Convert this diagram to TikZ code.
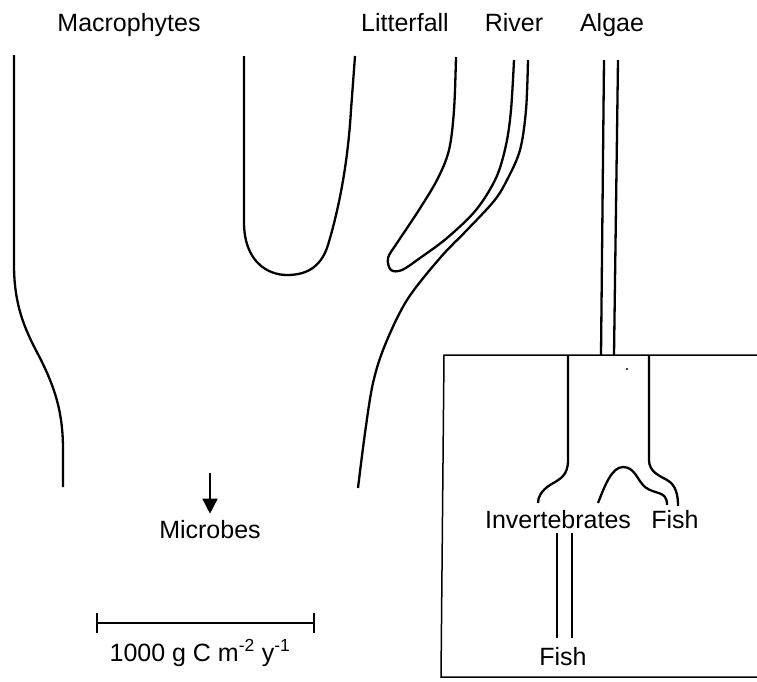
\documentclass[tikz,border=0pt]{standalone}
\usepackage{fontspec}
\setmainfont{Liberation Sans}
\usetikzlibrary{arrows.meta,positioning}

\begin{document}
\begin{tikzpicture}[x=1pt, y=-1pt, >={Triangle[width=15pt,length=15pt]},
  flow/.style={line width=2.3pt},
  frame/.style={line width=1.5pt},
  lab/.style={anchor=base, inner sep=0pt, font=\fontsize{25}{30}\selectfont}]
\useasboundingbox (0,0) rectangle (757,681);
% sources
\node[lab] (macro) at (129,31) {Macrophytes};
\node[lab] (litter) at (405,31) {Litterfall};
\node[lab] (river) at (514,31) {River};
\node[lab] (algae) at (612,31) {Algae};
% open water
\draw[flow] (14,55) -- (14,265) .. controls (14,310) and (28,335) .. (40,358)
  .. controls (55,388) and (63,412) .. (63,450) -- (63,487);
\draw[flow] (244,56) -- (244,222) .. controls (244,262) and (268,275) .. (287,275)
  .. controls (310,275) and (322,264) .. (328,245)
  .. controls (340,205) and (348,160) .. (351,110) -- (355,56);
\draw[flow] plot[smooth, tension=0.55] coordinates {(456,57) (454,110) (449,150) (437,180)
  (417,213) (397,243) (388,258) (391,270) (402,270) (420,258) (447,238) (476,210)
  (496,178) (506,145) (511,110) (514,60)};
\draw[flow] plot[smooth, tension=0.55] coordinates {(528,60) (526,110) (520,150) (507,180)
  (494,201) (467,230) (440,258) (407,300) (385,345) (373,383) (365,433) (358,488)};
\draw[flow] (604,60) -- (601,355);
\draw[flow] (618,60) -- (614,355);
% microbes and scale
\node[lab] (mic) at (210,538) {Microbes};
\coordinate (drop) at (210,473);
\draw[line width=1.6pt,->] (drop) -- ([yshift=6pt]mic.north);
\draw[frame] (97,613) -- (97,633) (97,623) -- (314,623) (314,613) -- (314,633);
\node[lab] (unit) at (200,661) {1000 g C m\textsuperscript{-2} y\textsuperscript{-1}};
% sediment box
\draw[frame] (757,355) -- (444,355) -- (441,677) -- (757,677);
\fill (627,369) circle (1.2pt);
\draw[flow] (568,355) -- (568,460) .. controls (568,476) and (560,479) .. (550,485)
  .. controls (541,491) and (538,497) .. (538,503);
\draw[flow] (649,355) -- (649,460) .. controls (649,472) and (660,476) .. (667,480)
  .. controls (676,485) and (678,495) .. (678,506);
\draw[flow] (598,503) .. controls (605,485) and (612,467) .. (623,467)
  .. controls (635,467) and (637,480) .. (645,487)
  .. controls (655,495) and (667,490) .. (667,505);
\node[lab] (inv) at (558,528) {Invertebrates};
\node[lab] (fish) at (675,528) {Fish};
\node[lab] (fishb) at (563,665) {Fish};
\draw[flow] (557,533) -- (557,638);
\draw[flow] (572,533) -- (572,638);
\end{tikzpicture}
\end{document}
